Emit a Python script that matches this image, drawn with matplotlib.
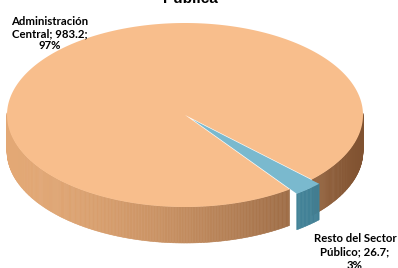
import numpy as np
import matplotlib.pyplot as plt
from matplotlib.patches import Polygon

# data
labels = ["Administración\nCentral; 983.2;\n97%", "Resto del Sector\nPúblico; 26.7;\n3%"]
values = [983.2, 26.7]
title = "Pública"

top_colors = ["#f8be8c", "#7ab9ce"]
side_left = [(0.89, 0.66, 0.46), (0.36, 0.66, 0.75)]
side_right = [(0.50, 0.32, 0.19), (0.22, 0.45, 0.53)]
explode = [0, 11]

# geometry in pixel-like coords
cx, cy, a, b, depth = 185, 115, 178, 92, 36
start = -44.5

fig = plt.figure(figsize=(3.98, 2.68), dpi=100)
ax = fig.add_axes([0, 0, 1, 1])
ax.set_xlim(0, 398)
ax.set_ylim(268, 0)
ax.axis("off")


def pt(t, r=1.0, dz=0.0, off=(0, 0)):
    return (cx + a * r * np.cos(t) + off[0], cy - b * r * np.sin(t) + dz + off[1])


fracs = np.array(values) / sum(values)
bounds = []
t0 = np.deg2rad(start)
for f in fracs:
    t1 = t0 + f * 2 * np.pi
    bounds.append((t0, t1))
    t0 = t1

for i, (t0, t1) in enumerate(bounds):
    mid = (t0 + t1) / 2
    off = (explode[i] * np.cos(mid), -explode[i] * np.sin(mid) * b / a)
    ts = np.linspace(t0, t1, max(int(np.degrees(t1 - t0)), 2) * 2)

    # outer side wall, only the front half is visible
    for k in range(len(ts) - 1):
        ta, tb = ts[k], ts[k + 1]
        tm = (ta + tb) / 2
        if np.sin(tm) > 0.02:
            continue
        w = (np.cos(tm) + 1) / 2  # 0 at left, 1 at right
        w = w ** 1.6
        col = [l * (1 - w) + r * w for l, r in zip(side_left[i], side_right[i])]
        p1, p2 = pt(ta, 1, 0, off), pt(tb, 1, 0, off)
        strip = [p1, p2, (p2[0], p2[1] + depth), (p1[0], p1[1] + depth)]
        ax.add_patch(Polygon(strip, closed=True, fc=col, ec=col, lw=0.4))

    # top face
    poly = [pt(0, 0, 0, off)] + [pt(t, 1, 0, off) for t in ts]
    ax.add_patch(Polygon(poly, closed=True, fc=top_colors[i], ec="none"))

ax.text(50, 16, labels[0], family=["Lato", "DejaVu Sans"], fontweight="bold",
        fontsize=8.2, ha="center", va="top", linespacing=1.1)
ax.text(355, 233, labels[1], family=["Lato", "DejaVu Sans"], fontweight="bold",
        fontsize=8.2, ha="center", va="top", linespacing=1.3)
ax.text(190, 3, title, family="Liberation Sans", fontweight="bold", fontsize=11,
        ha="center", va="baseline")

fig.savefig("out.png", dpi=100)
